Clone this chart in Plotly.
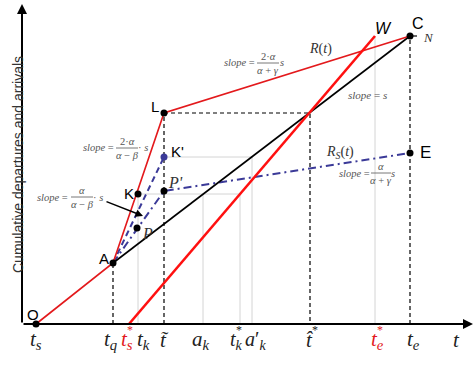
import plotly.graph_objects as go

W_PX, H_PX = 474, 367
# ---- data (time units along t-axis, cumulative counts along vertical axis)
tick_names = ["t_s", "t_q", "t_s*", "t_k", "t_tilde", "a_k", "t_k*", "a'_k", "t_hat*", "t_e*", "t_e"]
tick_times = [14, 91, 107, 116, 142, 181, 218, 230, 288, 353, 388]
T = dict(zip(tick_names, tick_times))

# cumulative arrival curve O-A-L-C
arr_t = [T["t_s"], T["t_q"], T["t_tilde"], T["t_e"]]
arr_n = [0, 61, 211, 288]
# departure curve A-C (slope = s)
dep_t = [T["t_q"], T["t_e"]]
dep_n = [61, 288]
# W line (wished curve)
w_t = [T["t_s*"], T["t_e*"]]
w_n = [0, 288]
# dashed blue A-K'
ak_t = [T["t_q"], T["t_tilde"]]
ak_n = [61, 167]
# dash-dot blue A-P'-E  (R_s(t))
rs_t = [T["t_q"], T["t_tilde"], T["t_e"]]
rs_n = [61, 133, 171]
# points
pt_names = ["O", "A", "L", "C", "K", "P", "P'", "E"]
pt_t = [T["t_s"], T["t_q"], T["t_tilde"], T["t_e"], T["t_k"], 115, T["t_tilde"], T["t_e"]]
pt_n = [0, 61, 211, 288, 130, 96, 133, 171]
kp_t, kp_n = [T["t_tilde"]], [167]
N_val = 288
y_K, y_Kp, y_L = 130, 167, 211

X0, Y0 = 22, 324  # pixel origin of axes


def px(x, y):
    return x / W_PX, 1 - y / H_PX


fig = go.Figure()

RED = "#e3191c"
BLUE = "#3b3a98"
GRAY = "#d4d4d4"
DASH = "4px,3px"


def line(xs, ys, color, width, dash="solid"):
    fig.add_trace(go.Scatter(x=xs, y=ys, mode="lines",
                             line=dict(color=color, width=width, dash=dash),
                             hoverinfo="skip", showlegend=False))


# gray helper lines
line([T["t_k"], T["t_k"], T["t_k*"], T["t_k*"]], [0, y_K, y_K, 0], GRAY, 1)
line([T["a_k"], T["a_k"]], [0, y_K], GRAY, 1)
line([T["t_tilde"], T["a'_k"], T["a'_k"]], [y_Kp, y_Kp, 0], GRAY, 1)
line([T["t_e*"], T["t_e*"]], [0, N_val], GRAY, 1)

# dashed black lines
line([T["t_q"], T["t_q"]], [0, 61], "black", 1.2, DASH)
line([T["t_tilde"], T["t_tilde"]], [0, y_L], "black", 1.2, DASH)
line([T["t_tilde"], T["t_hat*"], T["t_hat*"]], [y_L, y_L, 0], "black", 1.2, DASH)
line([T["t_e"], T["t_e"]], [0, N_val], "black", 1.2, DASH)
line([T["t_e"], T["t_e"] + 7], [N_val, N_val], "black", 1.2)

# blue lines
line(ak_t, ak_n, BLUE, 2, "6px,4px")
line(rs_t, rs_n, BLUE, 2, "8px,4px,2px,4px")

# main curves
line(dep_t, dep_n, "black", 1.6)
line(arr_t, arr_n, RED, 1.6)
line(w_t, w_n, "#ff1010", 2.6)

# points
fig.add_trace(go.Scatter(x=pt_t, y=pt_n, mode="markers",
                         marker=dict(color="black", size=7), hoverinfo="skip", showlegend=False))
fig.add_trace(go.Scatter(x=kp_t, y=kp_n, mode="markers",
                         marker=dict(color=BLUE, size=7), hoverinfo="skip", showlegend=False))

ann = []


def text(x, y, s, size=14, color="black", family="Liberation Sans", xanchor="center"):
    xx, yy = px(x, y)
    ann.append(dict(x=xx, y=yy, xref="paper", yref="paper", text=s, showarrow=False,
                    font=dict(size=size, color=color, family=family),
                    xanchor=xanchor, yanchor="middle"))


def arrow(x0, y0, x1, y1, width):
    # arrow from pixel (x0,y0) to pixel (x1,y1)
    xx, yy = px(x1, y1)
    ann.append(dict(x=xx, y=yy, xref="paper", yref="paper", ax=x0 - x1, ay=y0 - y1,
                    axref="pixel", ayref="pixel", showarrow=True, arrowhead=2, arrowsize=1,
                    arrowwidth=width, arrowcolor="black", text="", standoff=0, startstandoff=0))


SERIF = "Liberation Serif"

# axes as arrows
arrow(X0, Y0, X0, 4, 2)
arrow(X0, Y0, 473, Y0, 2)

# y-axis title
xx, yy = px(8, 165)
ann.append(dict(x=xx, y=yy, xref="paper", yref="paper", text="Cumulative departures and arrivals",
                showarrow=False, textangle=-90, font=dict(size=14, color="#333", family="Liberation Sans")))

# point labels
text(33, 314, "O", size=15)
text(104, 258, "A", size=15)
text(155, 106, "L", size=15)
text(129, 193, "K", size=15)
text(177, 151, "K'", size=15)
text(147, 233, "<i>P</i>", size=16, family=SERIF, color="#333")
text(175, 182, "<i>P'</i>", size=16, family=SERIF, color="#333")
text(383, 29, "<i>W</i>", size=16)
text(418, 23, "C", size=16)
text(425, 152, "E", size=17)
text(428, 37, "<i>N</i>", size=13, family=SERIF, color="#333")

# tick labels
TL = 340
tc = "#222"
text(36, TL, "<i>t<sub>s</sub></i>", size=21, family=SERIF, color=tc)
text(110, TL, "<i>t<sub>q</sub></i>", size=21, family=SERIF, color=tc)
text(127, TL, "<i>t<sub>s</sub></i>", size=21, family=SERIF, color=RED)
text(130, 330, "*", size=12, family=SERIF, color=RED)
text(143, TL, "<i>t<sub>k</sub></i>", size=21, family=SERIF, color=tc)
text(164, TL, "<i>t\u0303</i>", size=21, family=SERIF, color=tc)
text(201, TL, "<i>a<sub>k</sub></i>", size=21, family=SERIF, color=tc)
text(236, TL, "<i>t<sub>k</sub></i>", size=20, family=SERIF, color=tc)
text(239, 330, "*", size=12, family=SERIF, color=tc)
text(256, TL, "<i>a</i>\u2032<sub><i>k</i></sub>", size=20, family=SERIF, color=tc)
text(309, TL, "<i>t\u0302</i>", size=21, family=SERIF, color=tc)
text(315, 330, "*", size=12, family=SERIF, color=tc)
text(377, TL, "<i>t<sub>e</sub></i>", size=21, family=SERIF, color=RED)
text(380, 330, "*", size=12, family=SERIF, color=RED)
text(413, TL, "<i>t<sub>e</sub></i>", size=21, family=SERIF, color=tc)
text(456, TL, "<i>t</i>", size=21, family=SERIF, color=tc)

shapes = []
SC = "#555"


def frac(cx, cy, num, den, w, size=10.5):
    text(cx, cy - 7, num, size=size, family=SERIF, color=SC)
    text(cx, cy + 7, den, size=size, family=SERIF, color=SC)
    x0, y0 = px(cx - w / 2, cy)
    x1, _ = px(cx + w / 2, cy)
    shapes.append(dict(type="line", xref="paper", yref="paper", x0=x0, x1=x1, y0=y0, y1=y0,
                       line=dict(color=SC, width=0.8)))


# slope annotations
text(257, 62, "<i>slope</i> =", size=10.5, family=SERIF, color=SC, xanchor="right")
frac(268, 63, "2·<i>α</i>", "<i>α</i> + <i>γ</i>", 22)
text(282, 63, "<i>s</i>", size=10.5, family=SERIF, color=SC)
text(320, 49, "<i>R</i>(<i>t</i>)", size=14, family=SERIF, color="#333")
text(367, 95, "<i>slope</i> = <i>s</i>", size=11, family=SERIF, color=SC)
text(340, 152, "<i>R<sub>S</sub></i>(<i>t</i>)", size=14, family=SERIF, color="#333")
text(372, 173, "<i>slope</i> =", size=10.5, family=SERIF, color=SC, xanchor="right")
frac(381, 173, "<i>α</i>", "<i>α</i> + <i>γ</i>", 20)
text(393, 173, "<i>s</i>", size=10.5, family=SERIF, color=SC)
text(116, 148, "<i>slope</i> =", size=10.5, family=SERIF, color=SC, xanchor="right")
frac(127, 148, "2·<i>α</i>", "<i>α</i> − <i>β</i>", 22)
text(143, 148, "· <i>s</i>", size=10.5, family=SERIF, color=SC)
text(70, 197, "<i>slope</i> =", size=10.5, family=SERIF, color=SC, xanchor="right")
frac(82, 197, "<i>α</i>", "<i>α</i> − <i>β</i>", 22)
text(98, 197, "· <i>s</i>", size=10.5, family=SERIF, color=SC)

# arrow to A-P' line
arrow(105, 201, 143, 216, 1.5)

fig.update_layout(
    width=W_PX, height=H_PX, margin=dict(l=0, r=0, t=0, b=0),
    paper_bgcolor="white", plot_bgcolor="white",
    xaxis=dict(range=[-X0, W_PX - X0], visible=False, fixedrange=True),
    yaxis=dict(range=[Y0 - H_PX, Y0], visible=False, fixedrange=True),
    annotations=ann, shapes=shapes, showlegend=False,
)
fig.write_html("out.html")
